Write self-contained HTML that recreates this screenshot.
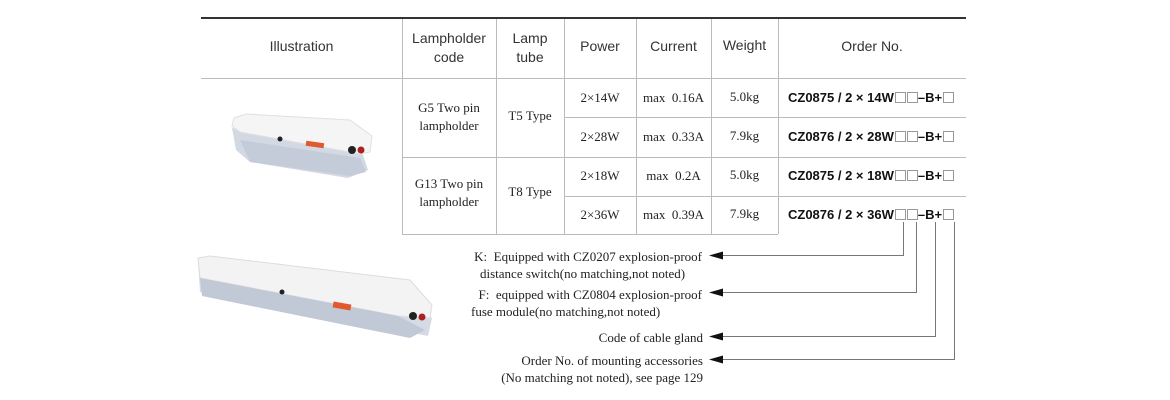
<!DOCTYPE html>
<html><head><meta charset="utf-8"><style>
body{margin:0;width:1170px;height:400px;background:#fff;position:relative;overflow:hidden;font-family:"Liberation Serif",serif;color:#222}
.a{position:absolute;white-space:nowrap}
.s{font-family:"Liberation Sans",sans-serif;font-size:14px;color:#333;text-align:center}
.t{font-size:13px;text-align:center}
.o{font-family:"Liberation Sans",sans-serif;font-weight:bold;font-size:13px;color:#111}
.b{display:inline-block;width:9px;height:9px;border:1px solid #999;margin:0 0 0 1px;vertical-align:-1px}
.l{font-size:13px;line-height:17px}
</style></head><body>
<svg class="a" style="left:0;top:0" width="1170" height="400">
<g stroke="#bbb" stroke-width="1" fill="none">
<line x1="201" y1="78.5" x2="966" y2="78.5"/>
<line x1="402.5" y1="18" x2="402.5" y2="234"/>
<line x1="496.5" y1="18" x2="496.5" y2="234"/>
<line x1="564.5" y1="18" x2="564.5" y2="234"/>
<line x1="636.5" y1="18" x2="636.5" y2="234"/>
<line x1="711.5" y1="18" x2="711.5" y2="234"/>
<line x1="778.5" y1="18" x2="778.5" y2="234"/>
<line x1="564" y1="117.5" x2="966" y2="117.5"/>
<line x1="402" y1="157.5" x2="966" y2="157.5"/>
<line x1="564" y1="196.5" x2="966" y2="196.5"/>
<line x1="402" y1="234.5" x2="778" y2="234.5"/>
</g>
<line x1="201" y1="18" x2="966" y2="18" stroke="#333" stroke-width="2"/>
<g stroke="#777" fill="none" stroke-width="1">
<polyline points="903.5,222 903.5,255.5 722,255.5"/>
<polyline points="916.5,222 916.5,292.5 722,292.5"/>
<polyline points="935.5,222 935.5,336.5 722,336.5"/>
<polyline points="954.5,222 954.5,359.5 722,359.5"/>
</g>
<g fill="#111">
<polygon points="709,255.5 723,251.5 723,259.5"/>
<polygon points="709,292.5 723,288.5 723,296.5"/>
<polygon points="709,336.5 723,332.5 723,340.5"/>
<polygon points="709,359.5 723,355.5 723,363.5"/>
</g>
<polygon points="232,128 362,152 368,170 348,178 250,162 236,150" fill="#d3d9e3"/>
<polygon points="234,118 246,114 350,120 372,136 370,152 360,154 240,132 232,126" fill="#f5f5f5" stroke="#e0e0e0"/>
<polygon points="240,140 360,158 366,172 350,176 250,162" fill="#c4ccd9"/>
<rect x="306" y="142" width="18" height="5" fill="#e05a2e" transform="rotate(8 315 144)"/>
<circle cx="352" cy="150" r="4" fill="#222"/><circle cx="361" cy="150" r="3.5" fill="#a22"/>
<circle cx="280" cy="139" r="2.5" fill="#222"/>
<polygon points="198,262 400,290 432,318 428,336 200,292" fill="#d5dbe5"/>
<polygon points="198,258 210,256 410,280 432,305 430,318 398,316 200,278" fill="#f3f3f3" stroke="#ddd"/>
<polygon points="200,278 398,316 425,330 410,338 202,296" fill="#c2c9d6"/>
<rect x="333" y="303" width="18" height="6" fill="#e05a2e" transform="rotate(10 342 306)"/>
<circle cx="413" cy="316" r="4" fill="#222"/><circle cx="422" cy="317" r="3.5" fill="#a22"/>
<circle cx="282" cy="292" r="2.5" fill="#222"/>
</svg>
<div class="a s" style="left:201px;top:38px;width:201px">Illustration</div>
<div class="a s" style="left:402px;top:29px;width:94px;line-height:19px">Lampholder<br>code</div>
<div class="a s" style="left:496px;top:29px;width:68px;line-height:19px">Lamp<br>tube</div>
<div class="a s" style="left:564px;top:38px;width:72px">Power</div>
<div class="a s" style="left:636px;top:38px;width:75px">Current</div>
<div class="a s" style="left:711px;top:37px;width:67px">Weight</div>
<div class="a s" style="left:778px;top:38px;width:188px">Order No.</div>
<div class="a t" style="left:402px;top:99px;width:94px;line-height:18px">G5 Two pin<br>lampholder</div>
<div class="a t" style="left:496px;top:108px;width:68px">T5 Type</div>
<div class="a t" style="left:402px;top:175px;width:94px;line-height:18px">G13 Two pin<br>lampholder</div>
<div class="a t" style="left:496px;top:184px;width:68px">T8 Type</div>
<div class="a t" style="left:564px;top:90px;width:72px">2×14W</div>
<div class="a t" style="left:564px;top:129px;width:72px">2×28W</div>
<div class="a t" style="left:564px;top:168px;width:72px">2×18W</div>
<div class="a t" style="left:564px;top:207px;width:72px">2×36W</div>
<div class="a t" style="left:636px;top:90px;width:75px">max&nbsp; 0.16A</div>
<div class="a t" style="left:636px;top:129px;width:75px">max&nbsp; 0.33A</div>
<div class="a t" style="left:636px;top:168px;width:75px">max&nbsp; 0.2A</div>
<div class="a t" style="left:636px;top:207px;width:75px">max&nbsp; 0.39A</div>
<div class="a t" style="left:711px;top:89px;width:67px">5.0kg</div>
<div class="a t" style="left:711px;top:128px;width:67px">7.9kg</div>
<div class="a t" style="left:711px;top:167px;width:67px">5.0kg</div>
<div class="a t" style="left:711px;top:206px;width:67px">7.9kg</div>
<div class="a o" style="left:788px;top:90px">CZ0875 / 2 × 14W<span class="b"></span><span class="b"></span>–B+<span class="b"></span></div>
<div class="a o" style="left:788px;top:129px">CZ0876 / 2 × 28W<span class="b"></span><span class="b"></span>–B+<span class="b"></span></div>
<div class="a o" style="left:788px;top:168px">CZ0875 / 2 × 18W<span class="b"></span><span class="b"></span>–B+<span class="b"></span></div>
<div class="a o" style="left:788px;top:207px">CZ0876 / 2 × 36W<span class="b"></span><span class="b"></span>–B+<span class="b"></span></div>
<div class="a l" style="right:468px;top:248px;text-align:right">K:&nbsp; Equipped with CZ0207 explosion-proof</div>
<div class="a l" style="left:480px;top:265px">distance switch(no matching,not noted)</div>
<div class="a l" style="right:468px;top:286px;text-align:right">F:&nbsp; equipped with CZ0804 explosion-proof</div>
<div class="a l" style="left:471px;top:303px">fuse module(no matching,not noted)</div>
<div class="a l" style="right:467px;top:329px;text-align:right">Code of cable gland</div>
<div class="a l" style="right:467px;top:352px;text-align:right">Order No. of mounting accessories<br>(No matching not noted), see page 129</div>
</body></html>
